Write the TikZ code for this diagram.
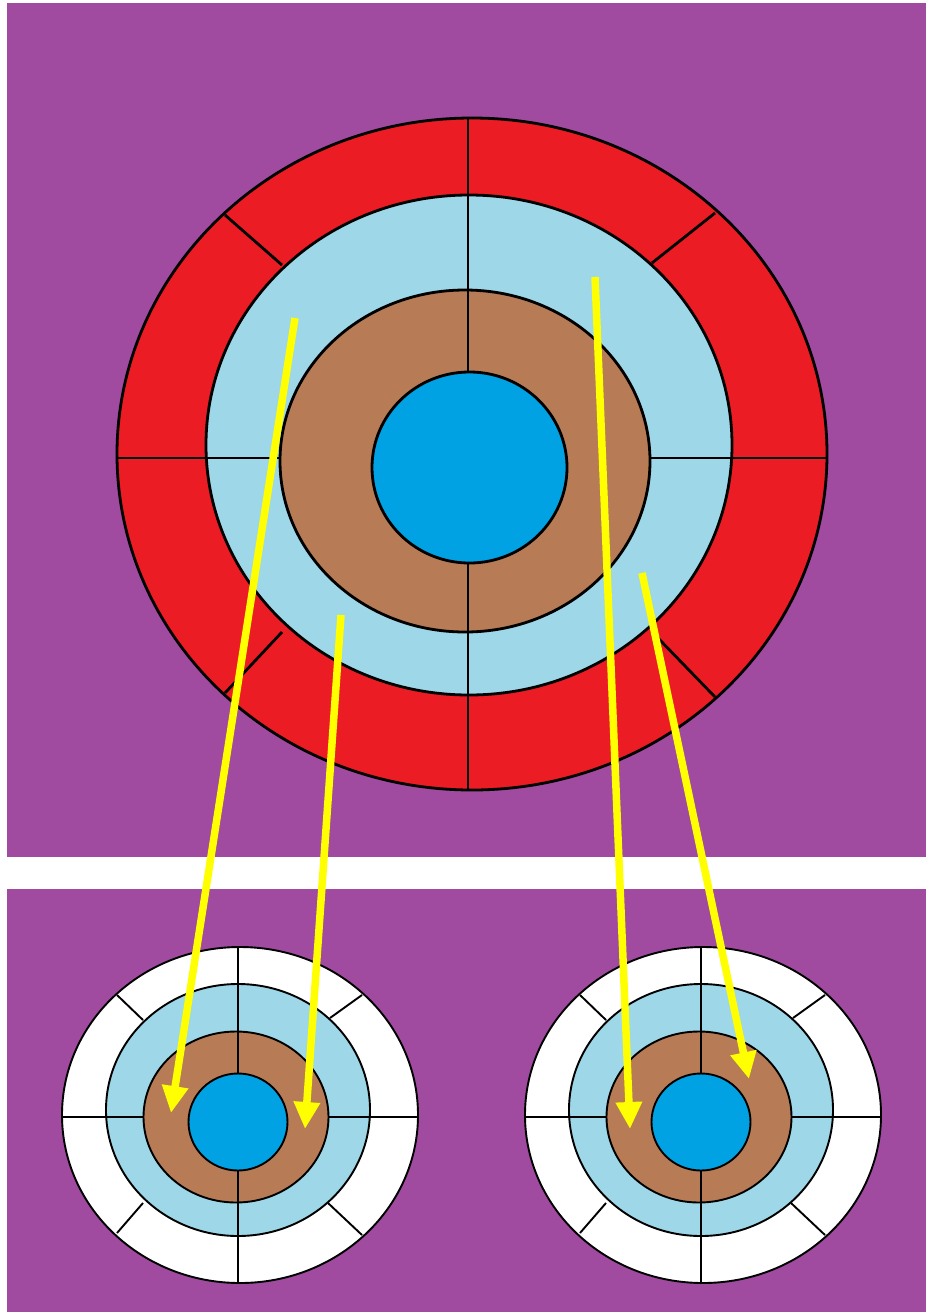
\documentclass[tikz,border=0pt]{standalone}
\usetikzlibrary{arrows.meta}
\definecolor{bgpurple}{RGB}{160,74,160}
\definecolor{ringred}{RGB}{236,28,36}
\definecolor{ringlight}{RGB}{157,215,232}
\definecolor{ringbrown}{RGB}{183,123,86}
\definecolor{coreblue}{RGB}{0,162,227}
\definecolor{arrowyellow}{RGB}{255,255,0}
\tikzset{
  bigline/.style={draw=black,line width=2.8pt},
  smallline/.style={draw=black,line width=1.9pt},
  yarrow/.style={draw=arrowyellow,line width=7.5pt,-{Triangle[width=25pt,length=27pt]}}
}
\begin{document}
\begin{tikzpicture}[x=1pt,y=-1pt]
\useasboundingbox (0,0) rectangle (926,1312);
\fill[white] (0,0) rectangle (926,1312);
\fill[bgpurple] (7,3) rectangle (926,857);
\fill[bgpurple] (7,889) rectangle (926,1312);
% big target
\filldraw[fill=ringred,bigline] (472,454) ellipse [x radius=355pt,y radius=336pt];
\filldraw[fill=ringlight,bigline] (469,445) ellipse [x radius=263pt,y radius=250pt];
\draw[bigline] (117,458) -- (827,458);
\filldraw[fill=ringbrown,bigline] (465,461) ellipse [x radius=185pt,y radius=171pt];
\draw[bigline] (468,118) -- (468,790);
\filldraw[fill=coreblue,bigline] (469.5,467.5) ellipse [x radius=97.5pt,y radius=95.5pt];
\draw[bigline] (225,215) -- (282,265);
\draw[bigline] (715,213) -- (652,263);
\draw[bigline] (225,693) -- (282,632);
\draw[bigline] (715,697) -- (657,637);
% small targets
\foreach \dx in {0,463}{
\begin{scope}[xshift=\dx pt]
\filldraw[fill=white,smallline] (240,1115) ellipse [x radius=178pt,y radius=168pt];
\filldraw[fill=ringlight,smallline] (238,1110) ellipse [x radius=132pt,y radius=126pt];
\draw[smallline] (62,1117) -- (418,1117);
\filldraw[fill=ringbrown,smallline] (236,1117) ellipse [x radius=92.5pt,y radius=85.5pt];
\draw[smallline] (238,947) -- (238,1283);
\filldraw[fill=coreblue,smallline] (238,1122) ellipse [x radius=49.5pt,y radius=48.5pt];
\draw[smallline] (117,995) -- (143,1020);
\draw[smallline] (362,995) -- (330,1018);
\draw[smallline] (117,1233) -- (143,1203);
\draw[smallline] (362,1235) -- (328,1203);
\end{scope}
}
% arrows
\coordinate (s1) at (295,318);
\coordinate (t1) at (171,1113);
\coordinate (s2) at (341,615);
\coordinate (t2) at (305,1129);
\coordinate (s3) at (595,277);
\coordinate (t3) at (630,1129);
\coordinate (s4) at (642,573);
\coordinate (t4) at (749,1079);
\draw[yarrow] (s1) -- (t1);
\draw[yarrow] (s2) -- (t2);
\draw[yarrow] (s3) -- (t3);
\draw[yarrow] (s4) -- (t4);
\end{tikzpicture}
\end{document}
